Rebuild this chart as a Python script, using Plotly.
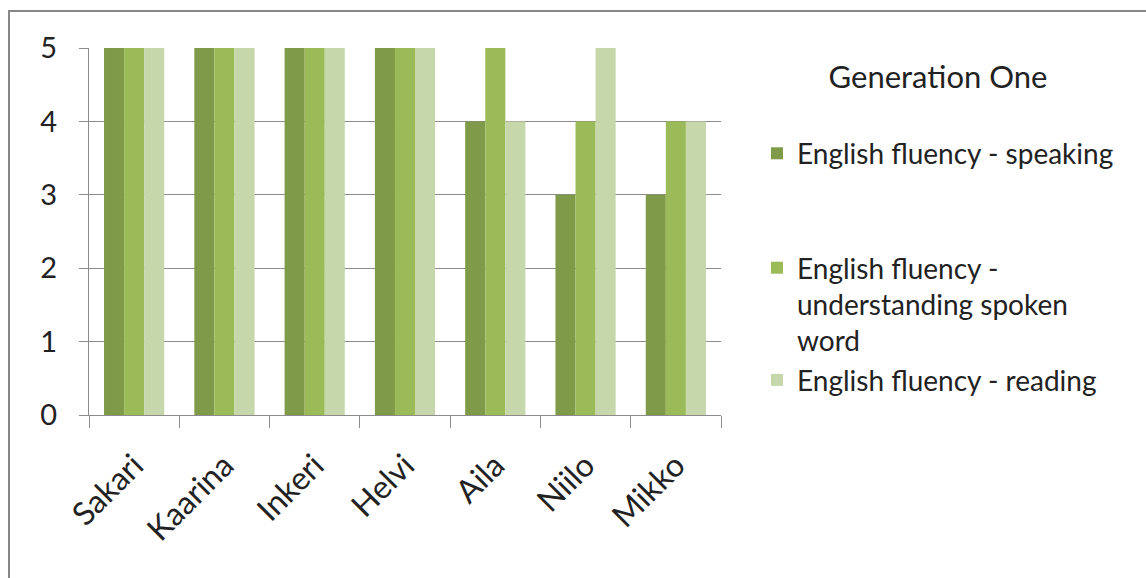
import plotly.graph_objects as go

names = ["Sakari", "Kaarina", "Inkeri", "Helvi", "Aila", "Niilo", "Mikko"]
speaking = [5, 5, 5, 5, 4, 3, 3]
understanding = [5, 5, 5, 5, 5, 4, 4]
reading = [5, 5, 5, 5, 4, 5, 4]

series_names = [
    "English fluency - speaking",
    "English fluency -<br>understanding spoken<br>word",
    "English fluency - reading",
]
colors = ["#7f9a48", "#9bbb59", "#c6d7ac"]
groups = ["a", "b", "b"]

FONT = "Lato"
fig = go.Figure()
for vals, nm, col, g in zip([speaking, understanding, reading], series_names, colors, groups):
    fig.add_trace(go.Bar(x=names, y=vals, name=nm, marker=dict(color=col, line=dict(width=0)),
                         legendgroup=g))

W, H = 1146, 578
L, R, T, B = 89, 425, 48, 163
pw, ph = W - L - R, H - T - B

def px_x(p):
    return (p - L) / pw

def px_y(p):
    return (H - B - p) / ph

fig.update_layout(
    width=W, height=H,
    margin=dict(l=L, r=R, t=T, b=B),
    paper_bgcolor="white", plot_bgcolor="white",
    barmode="group", bargap=0.333, bargroupgap=0,
    font=dict(family=FONT, size=22, color="#222222"),
    legend=dict(
        x=px_x(757), xanchor="left", y=px_y(48), yanchor="top",
        title=dict(text="Generation One<br> ", font=dict(size=31), side="top center"),
        font=dict(size=28), tracegroupgap=75, valign="top",
        bgcolor="rgba(0,0,0,0)",
    ),
    xaxis=dict(
        showline=True, linecolor="#8c8c8c", linewidth=1,
        ticks="outside", tickson="boundaries", ticklen=12, tickcolor="#8c8c8c",
        tickangle=-45, tickfont=dict(size=32), showgrid=False,
        ticklabelstandoff=18,
    ),
    yaxis=dict(
        range=[0, 5], dtick=1, showline=True, linecolor="#8c8c8c", linewidth=1,
        ticks="outside", ticklen=9, tickcolor="#8c8c8c",
        gridcolor="#8c8c8c", gridwidth=1, tickfont=dict(size=29),
        ticklabelstandoff=16, zeroline=False,
    ),
    shapes=[dict(type="rect", xref="paper", yref="paper",
                 x0=px_x(9), x1=px_x(1150), y0=px_y(590), y1=px_y(11),
                 line=dict(color="#878787", width=2))],
)

fig.write_html("out.html")
